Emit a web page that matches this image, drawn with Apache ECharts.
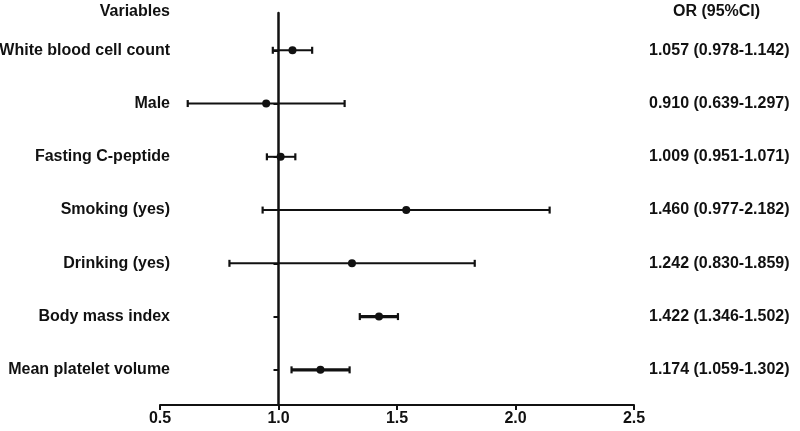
<!DOCTYPE html>
<html>
<head>
<meta charset="utf-8">
<script src="https://cdn.jsdelivr.net/npm/echarts@6/dist/echarts.min.js"></script>
<style>
  html, body { margin: 0; padding: 0; background: #fff; }
  #chart { width: 800px; height: 431px; }
</style>
</head>
<body>
<div id="chart"></div>
<script>
const variables = [
  'White blood cell count',
  'Male',
  'Fasting C-peptide',
  'Smoking (yes)',
  'Drinking (yes)',
  'Body mass index',
  'Mean platelet volume'
]
const orText = [
  '1.057 (0.978-1.142)',
  '0.910 (0.639-1.297)',
  '1.009 (0.951-1.071)',
  '1.460 (0.977-2.182)',
  '1.242 (0.830-1.859)',
  '1.422 (1.346-1.502)',
  '1.174 (1.059-1.302)'
]
// positions as drawn in the figure
const pointOR = [1.059, 0.948, 1.009, 1.539, 1.310, 1.424, 1.177]
const ciLow = [0.976, 0.617, 0.951, 0.933, 0.793, 1.343, 1.055]
const ciHigh = [1.142, 1.279, 1.071, 2.144, 1.828, 1.504, 1.300]
const rowIdx = variables.map((_, i) => i)

const font = 'Liberation Sans, Arial, sans-serif'
const chart = echarts.init(document.getElementById('chart'))

chart.setOption({
  animation: false,
  title: [
    { text: 'Variables', right: 630, top: 4, padding: 0, textStyle: { fontFamily: font, fontSize: 16, fontWeight: 'bold', color: '#111' } },
    { text: 'OR (95%CI)', left: 673, top: 4, padding: 0, textStyle: { fontFamily: font, fontSize: 16, fontWeight: 'bold', color: '#111' } }
  ],
  grid: { left: 160, right: 166, top: 13, bottom: 26, outerBoundsMode: 'none', containLabel: false },
  xAxis: [
    {
      type: 'value', min: 0.5, max: 2.5, interval: 0.5,
      axisLine: { show: true, onZero: false, lineStyle: { color: '#111', width: 2 } },
      axisTick: { show: true, length: 5, lineStyle: { color: '#111', width: 2 } },
      axisLabel: { fontFamily: font, fontSize: 16, fontWeight: 'bold', color: '#111', margin: 6, formatter: v => v.toFixed(1) },
      splitLine: { show: false }
    },
    // shifted copy so that its zero falls on OR = 1
    { type: 'value', min: -0.5, max: 1.5, show: false }
  ],
  yAxis: [
    {
      type: 'value', inverse: true, min: -0.7, max: 6.66,
      axisLine: { show: true, onZero: true, onZeroAxisIndex: 1, lineStyle: { color: '#111', width: 2.5 } },
      axisTick: { show: true, length: 5, customValues: rowIdx, lineStyle: { color: '#111', width: 2 } },
      axisLabel: {
        customValues: rowIdx, margin: -10, fontFamily: font, fontSize: 16, fontWeight: 'bold', color: '#111',
        formatter: v => variables[v]
      },
      splitLine: { show: false }
    },
    {
      type: 'value', inverse: true, min: -0.7, max: 6.66, position: 'right',
      axisLine: { show: false }, axisTick: { show: false },
      axisLabel: {
        customValues: rowIdx, margin: 15, fontFamily: font, fontSize: 16, fontWeight: 'bold', color: '#111',
        formatter: v => orText[v]
      },
      splitLine: { show: false }
    }
  ],
  series: [
    {
      type: 'custom',
      xAxisIndex: 0, yAxisIndex: 0,
      data: rowIdx.map(i => [ciLow[i], ciHigh[i], i]),
      renderItem: (params, api) => {
        const a = api.coord([api.value(0), api.value(2)])
        const b = api.coord([api.value(1), api.value(2)])
        const w = api.value(2) >= 5 ? 3.2 : 2
        const cap = 3.5
        const style = { stroke: '#111', lineWidth: w }
        return {
          type: 'group',
          children: [
            { type: 'line', shape: { x1: a[0], y1: a[1], x2: b[0], y2: b[1] }, style },
            { type: 'line', shape: { x1: a[0], y1: a[1] - cap, x2: a[0], y2: a[1] + cap }, style: { stroke: '#111', lineWidth: 2.2 } },
            { type: 'line', shape: { x1: b[0], y1: b[1] - cap, x2: b[0], y2: b[1] + cap }, style: { stroke: '#111', lineWidth: 2.2 } }
          ]
        }
      },
      z: 3
    },
    {
      type: 'scatter',
      xAxisIndex: 0, yAxisIndex: 0,
      symbol: 'circle', symbolSize: 8,
      itemStyle: { color: '#111', opacity: 1 },
      data: rowIdx.map(i => [pointOR[i], i]),
      z: 4
    }
  ]
})
</script>
</body>
</html>
